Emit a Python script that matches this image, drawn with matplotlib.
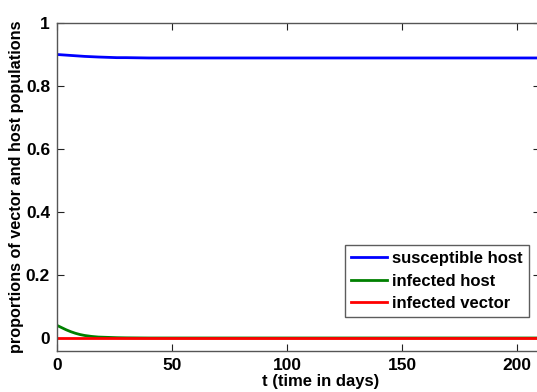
import matplotlib
matplotlib.use("Agg")
import matplotlib.pyplot as plt

plt.rcParams['font.family'] = ['Liberation Sans', 'DejaVu Sans']
plt.rcParams['font.weight'] = 'bold'

t = [0, 2, 4, 6, 8, 10, 12, 15, 18, 22, 26, 30, 40, 50, 60, 80, 100, 120, 140, 160, 180, 200, 210]
susceptible_host = [0.900, 0.899, 0.898, 0.897, 0.896, 0.895, 0.894, 0.893, 0.892, 0.891, 0.890, 0.890,
                    0.889, 0.889, 0.889, 0.889, 0.889, 0.889, 0.889, 0.889, 0.889, 0.889, 0.889]
infected_host = [0.040, 0.033, 0.026, 0.020, 0.015, 0.011, 0.008, 0.005, 0.003, 0.002, 0.001, 0.0005,
                 0.0, 0.0, 0.0, 0.0, 0.0, 0.0, 0.0, 0.0, 0.0, 0.0, 0.0]
infected_vector = [0.0] * len(t)

labels = ['susceptible host', 'infected host', 'infected vector']
xticks = [0, 50, 100, 150, 200]
yticks = [0, 0.2, 0.4, 0.6, 0.8, 1]
yticklabels = ['0', '0.2', '0.4', '0.6', '0.8', '1']

fig = plt.figure(figsize=(5.37, 3.92), dpi=100)
ax = fig.add_axes([57/537, 41.4/392, 483/537, 327.6/392])

ax.plot(t, susceptible_host, color=(0, 0, 1), lw=2, label=labels[0])
ax.plot(t, infected_host, color=(0, 0.5, 0), lw=2, label=labels[1])
ax.plot(t, infected_vector, color=(1, 0, 0), lw=2, label=labels[2])

ax.set_xlim(0, 210)
ax.set_ylim(-0.04, 1)
ax.set_xticks(xticks)
ax.set_xticklabels([str(v) for v in xticks])
ax.set_yticks(yticks)
ax.set_yticklabels(yticklabels)
ax.tick_params(direction='in', length=5, width=0.8, top=True, right=True,
               labelsize=12.5, colors='#222222', labelcolor='black', pad=5)
for s in ax.spines.values():
    s.set_color('#555555')
    s.set_linewidth(1.0)

ax.set_xlabel('t (time in days)', fontsize=12, fontweight='bold')
ax.set_ylabel('proportions of vector and host populations', fontsize=11.7, fontweight='bold')
ax.xaxis.set_label_coords(0.545, -0.072)
ax.yaxis.set_label_coords(-0.068, 0.5)

leg = ax.legend(loc='lower right', bbox_to_anchor=(0.977, 0.103), borderaxespad=0,
                fontsize=12, frameon=True, fancybox=False, handlelength=2.2,
                handletextpad=0.3, labelspacing=0.45, borderpad=0.35)
leg.get_frame().set_edgecolor('#333333')
leg.get_frame().set_linewidth(1.0)
for txt in leg.get_texts():
    txt.set_fontweight('bold')

fig.savefig('out.png', dpi=100)
